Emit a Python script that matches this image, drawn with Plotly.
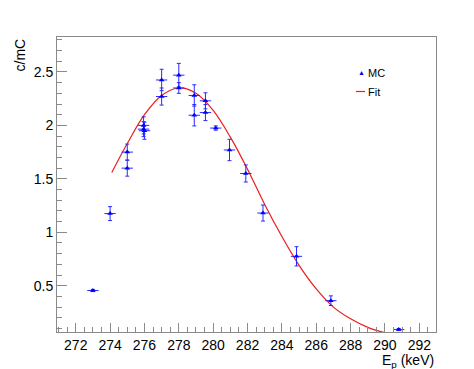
import plotly.graph_objects as go

# MC data points
mc_x = [273.0, 274.0, 275.0, 275.0, 275.95, 275.95, 276.0, 277.0, 277.0, 278.0, 278.0,
        278.9, 278.9, 279.55, 279.55, 280.15, 280.95, 281.9, 282.9, 284.85, 286.85, 290.8]
mc_y = [0.455, 1.175, 1.75, 1.60, 2.00, 1.965, 1.95, 2.425, 2.27, 2.47, 2.35,
        2.28, 2.095, 2.23, 2.12, 1.975, 1.77, 1.55, 1.18, 0.775, 0.36, 0.09]
mc_yerr = [0.01, 0.065, 0.075, 0.075, 0.08, 0.07, 0.08, 0.10, 0.08, 0.11, 0.05,
           0.10, 0.10, 0.075, 0.075, 0.02, 0.10, 0.08, 0.075, 0.09, 0.045, 0.01]
mc_xerr = [0.33] * len(mc_x)

# Fit curve
fit_x = [274.1, 275, 276, 277, 278, 279, 280, 281, 282, 283, 284, 285, 286, 287, 288, 289, 290]
fit_y = [1.56, 1.83, 2.10, 2.28, 2.35, 2.30, 2.14, 1.89, 1.59, 1.26, 0.96, 0.69, 0.47, 0.30, 0.19, 0.11, 0.06]

# Axis ticks
y_ticks = [0.5, 1.0, 1.5, 2.0, 2.5]
y_ticktext = ["0.5", "1", "1.5", "2", "2.5"]
x_ticks = [272, 274, 276, 278, 280, 282, 284, 286, 288, 290, 292]

FONT = "Liberation Sans, Arial, Helvetica, sans-serif"
AXC = "#8a8a8a"

fig = go.Figure()
fig.add_trace(go.Scatter(
    x=fit_x, y=fit_y, mode="lines", line=dict(color="#ee1c1c", width=1.2, shape="spline"),
    showlegend=False, hoverinfo="skip"))
fig.add_trace(go.Scatter(
    x=mc_x, y=mc_y, mode="markers",
    marker=dict(symbol="triangle-up", size=5, color="#0000ff"),
    error_x=dict(type="data", array=mc_xerr, color="#2a2aff", thickness=1, width=0),
    error_y=dict(type="data", array=mc_yerr, color="#2a2aff", thickness=1, width=2),
    showlegend=False))

fig.update_layout(
    width=474, height=369,
    margin=dict(l=57, r=38, t=37, b=37),
    paper_bgcolor="white", plot_bgcolor="white",
    font=dict(family=FONT, size=14, color="black"),
    showlegend=False,
)
fig.update_xaxes(
    range=[270.91, 292.97], tickvals=x_ticks, ticks="inside", ticklen=9, tickcolor=AXC,
    showline=True, linecolor=AXC, linewidth=1, mirror=True, showgrid=False, zeroline=False,
    tickfont=dict(size=14),
    minor=dict(dtick=0.5, tick0=272, ticks="inside", ticklen=5, tickcolor=AXC, showgrid=False),
)
fig.update_yaxes(
    range=[0.067, 2.827], tickvals=y_ticks, ticktext=y_ticktext, ticks="inside", ticklen=10,
    tickcolor=AXC, showline=True, linecolor=AXC, linewidth=1, mirror=True, showgrid=False,
    zeroline=False, tickfont=dict(size=14),
    minor=dict(dtick=0.1, tick0=0, ticks="inside", ticklen=5, tickcolor=AXC, showgrid=False),
)

# Axis titles
fig.add_annotation(text="c/mC", textangle=-90, xref="paper", yref="paper",
                   x=0, y=1, xshift=-38, xanchor="center", yanchor="top",
                   showarrow=False, font=dict(size=14))
fig.add_annotation(text="E<sub>p</sub> (keV)", xref="paper", yref="paper",
                   x=1, y=0, xanchor="right", yanchor="top", yshift=-18,
                   showarrow=False, font=dict(size=14))

# Legend
fig.add_annotation(text="▲", xref="paper", yref="paper", x=(361 - 57) / 379, y=(332 - 73) / 295,
                   xanchor="center", yanchor="middle", showarrow=False,
                   font=dict(size=7, color="#0000ff"))
fig.add_annotation(text="MC", xref="paper", yref="paper", x=(366 - 57) / 379, y=(332 - 73) / 295,
                   xanchor="left", yanchor="middle", showarrow=False, font=dict(size=11))
fig.add_shape(type="line", xref="paper", yref="paper",
              x0=(356 - 57) / 379, x1=(365 - 57) / 379,
              y0=(332 - 91.5) / 295, y1=(332 - 91.5) / 295,
              line=dict(color="#ee1c1c", width=1.2))
fig.add_annotation(text="Fit", xref="paper", yref="paper", x=(366 - 57) / 379, y=(332 - 92) / 295,
                   xanchor="left", yanchor="middle", showarrow=False, font=dict(size=11))

fig.write_html("out.html", config={"displayModeBar": False},
               post_script="document.body.style.margin='0';")
